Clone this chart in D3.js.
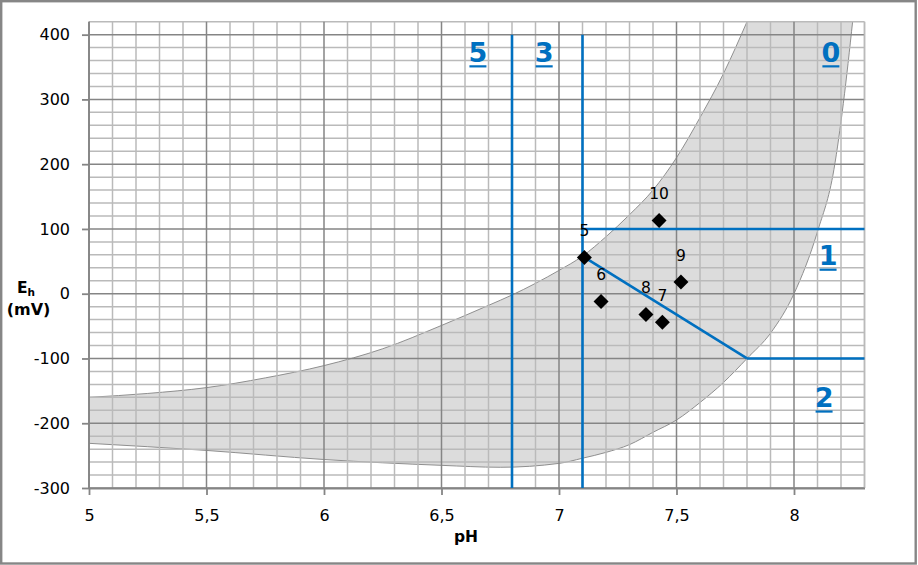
<!DOCTYPE html>
<html>
<head>
<meta charset="utf-8">
<script src="https://cdn.jsdelivr.net/npm/d3@7"></script>
<style>
  html, body { margin: 0; padding: 0; background: #fff; }
  svg { display: block; }
  text { font-family: "DejaVu Sans", sans-serif; }
</style>
</head>
<body>
<svg id="chart" width="918" height="565"></svg>
<script>
// ---------- data ----------
const xTicks = [5, 5.5, 6, 6.5, 7, 7.5, 8];
const xTickLabels = ["5", "5,5", "6", "6,5", "7", "7,5", "8"];
const yTicks = [-300, -200, -100, 0, 100, 200, 300, 400];

// upper (left) boundary of the shaded field
const upperPH = [5.0, 5.25, 5.5, 5.75, 6.0, 6.25, 6.5, 6.7, 6.8, 7.0, 7.1, 7.2, 7.3, 7.4, 7.5, 7.6, 7.7, 7.8];
const upperEh = [-160, -154, -145, -130, -111, -85, -49, -18, -2, 36, 58, 88, 122, 160, 210, 272, 340, 420];

// lower (right) boundary of the shaded field
const lowerPH = [5.0, 5.5, 6.0, 6.5, 6.75, 7.0, 7.1, 7.2, 7.3, 7.4, 7.5, 7.6, 7.7, 7.8, 7.9, 8.0, 8.1, 8.17, 8.21, 8.25];
const lowerEh = [-231, -242, -256, -265, -268, -262, -254, -245, -233, -214, -195, -168, -137, -100, -61, 0, 96, 192, 294, 422];

// samples
const sampleIds = ["5", "6", "7", "8", "9", "10"];
const samplePH = [7.108, 7.179, 7.440, 7.370, 7.519, 7.426];
const sampleEh = [56, -12, -44, -32, 18, 113];

// zone boundary lines (blue)
const boundaryLines = [
  { ph: [6.8, 6.8], eh: [-300, 400] },
  { ph: [7.1, 7.1], eh: [-300, 400] },
  { ph: [7.1, 8.3], eh: [100, 100] },
  { ph: [7.1, 7.8], eh: [58, -100] },
  { ph: [7.8, 8.3], eh: [-100, -100] }
];

// zone labels
const zoneNames = ["5", "3", "0", "1", "2"];
const zonePH = [6.655, 6.937, 8.157, 8.145, 8.128];
const zoneEh = [358, 358, 358, 44, -175];

// ---------- layout ----------
const svg = d3.select("#chart");
const W = 918, H = 565;
const x = d3.scaleLinear().domain([5, 8.3]).range([89, 864.5]);
const y = d3.scaleLinear().domain([-300, 420]).range([488, 21.7]);

const BLUE = "#0070c0";
const MINOR = "#bababa";
const MAJOR = "#858585";

// background and outer frame
svg.append("rect").attr("x", 0).attr("y", 0).attr("width", W).attr("height", H).attr("fill", "#fff");
svg.append("rect").attr("x", 1.2).attr("y", 1.2).attr("width", 914.5).attr("height", 562.3)
  .attr("fill", "none").attr("stroke", "#868686").attr("stroke-width", 2.4);

// clip
svg.append("defs").append("clipPath").attr("id", "plotclip")
  .append("rect").attr("x", x(5)).attr("y", y(420)).attr("width", x(8.3) - x(5)).attr("height", y(-300) - y(420));

const plot = svg.append("g").attr("clip-path", "url(#plotclip)");

// shaded field
const upperData = upperPH.map((p, i) => [p, upperEh[i]]);
const lowerData = lowerPH.map((p, i) => [p, lowerEh[i]]);
const line = d3.line().x(d => x(d[0])).y(d => y(d[1])).curve(d3.curveMonotoneX);
const upPath = line(upperData);
const lowRevPath = line(lowerData.slice().reverse());
plot.append("path")
  .attr("d", upPath + "L" + lowRevPath.slice(1) + "Z")
  .attr("fill", "#dcdcdc").attr("stroke", "none");

// grid
const vGrid = d3.range(0, 34).map(i => ({ v: 5 + i * 0.1, major: i % 5 === 0 }));
const hGrid = d3.range(0, 37).map(i => ({ v: -300 + i * 20, major: (i * 20) % 100 === 0 }));
const gridG = svg.append("g");
[false, true].forEach(maj => {
  gridG.selectAll(null).data(vGrid.filter(d => d.major === maj)).enter().append("line")
    .attr("x1", d => x(d.v)).attr("x2", d => x(d.v)).attr("y1", y(420)).attr("y2", y(-300))
    .attr("stroke", maj ? MAJOR : MINOR).attr("stroke-width", 1.5);
  gridG.selectAll(null).data(hGrid.filter(d => d.major === maj)).enter().append("line")
    .attr("x1", x(5)).attr("x2", x(8.3)).attr("y1", d => y(d.v)).attr("y2", d => y(d.v))
    .attr("stroke", maj ? MAJOR : MINOR).attr("stroke-width", 1.5);
});
gridG.append("line").attr("x1", x(8.3)).attr("x2", x(8.3)).attr("y1", y(420)).attr("y2", y(-300))
  .attr("stroke", MINOR).attr("stroke-width", 1.5);

// boundary curves
plot.append("path").attr("d", upPath).attr("fill", "none").attr("stroke", "#8f8f8f").attr("stroke-width", 1);
plot.append("path").attr("d", line(lowerData)).attr("fill", "none").attr("stroke", "#8f8f8f").attr("stroke-width", 1);

// axes
const yAxis = d3.axisLeft(y).tickValues(yTicks).tickSize(7).tickSizeOuter(0).tickPadding(12)
  .tickFormat(d => String(d));
const xAxis = d3.axisBottom(x).tickValues(xTicks).tickSize(7).tickSizeOuter(0).tickPadding(15)
  .tickFormat((d, i) => xTickLabels[i]);

const gy = svg.append("g").attr("transform", `translate(${x(5)},0)`).call(yAxis);
gy.select(".domain").attr("d", `M0,${y(420)}V${y(-300)}`);
const gx = svg.append("g").attr("transform", `translate(0,${y(-300)})`).call(xAxis);
[gx, gy].forEach(g => {
  g.select(".domain").attr("stroke", MAJOR).attr("stroke-width", 1.8);
  g.selectAll(".tick line").attr("stroke", MAJOR).attr("stroke-width", 1.8);
  g.selectAll(".tick text").attr("fill", "#000").attr("font-size", 16)
    .attr("font-family", "'DejaVu Sans', sans-serif");
});

// axis titles
svg.append("text").attr("x", 466).attr("y", 542).attr("text-anchor", "middle")
  .attr("font-family", "'Open Sans', sans-serif")
  .attr("font-size", 15.5).attr("font-weight", "bold").attr("fill", "#000").text("pH");
const eh = svg.append("text").attr("x", 26).attr("y", 293).attr("text-anchor", "middle")
  .attr("font-family", "'Open Sans', sans-serif")
  .attr("font-size", 15.5).attr("font-weight", "bold").attr("fill", "#000");
eh.append("tspan").text("E");
eh.append("tspan").attr("font-size", 10.5).attr("dy", 3).text("h");
svg.append("text").attr("x", 28.5).attr("y", 315).attr("text-anchor", "middle")
  .attr("font-family", "'Open Sans', sans-serif")
  .attr("font-size", 16).attr("font-weight", "bold").attr("fill", "#000").text("(mV)");

// blue boundary lines
const bl = d3.line().x(d => x(d[0])).y(d => y(d[1]));
svg.append("g").selectAll("path").data(boundaryLines).enter().append("path")
  .attr("d", d => bl(d.ph.map((p, i) => [p, d.eh[i]])))
  .attr("fill", "none").attr("stroke", BLUE).attr("stroke-width", 2.6);

// sample points
const sym = d3.symbol().type(d3.symbolSquare).size(112);
svg.append("g").selectAll("path").data(sampleIds).enter().append("path")
  .attr("d", sym)
  .attr("transform", (d, i) => `translate(${x(samplePH[i])},${y(sampleEh[i])}) rotate(45)`)
  .attr("fill", "#000");
svg.append("g").selectAll("text").data(sampleIds).enter().append("text")
  .attr("x", (d, i) => x(samplePH[i]))
  .attr("y", (d, i) => y(sampleEh[i]) - 21.5)
  .attr("text-anchor", "middle").attr("font-size", 15.5).attr("fill", "#000")
  .text(d => d);

// zone labels (bold, underlined)
const zg = svg.append("g").selectAll("g").data(zoneNames).enter().append("g");
zg.append("text")
  .attr("x", (d, i) => x(zonePH[i])).attr("y", (d, i) => y(zoneEh[i]))
  .attr("text-anchor", "middle").attr("font-size", 27).attr("font-weight", "bold")
  .attr("font-family", "'Open Sans', sans-serif")
  .attr("fill", BLUE).text(d => d);
zg.append("line")
  .attr("x1", (d, i) => x(zonePH[i]) - 8.5).attr("x2", (d, i) => x(zonePH[i]) + 8.5)
  .attr("y1", (d, i) => y(zoneEh[i]) + 4.5).attr("y2", (d, i) => y(zoneEh[i]) + 4.5)
  .attr("stroke", BLUE).attr("stroke-width", 2.2);
</script>
</body>
</html>
